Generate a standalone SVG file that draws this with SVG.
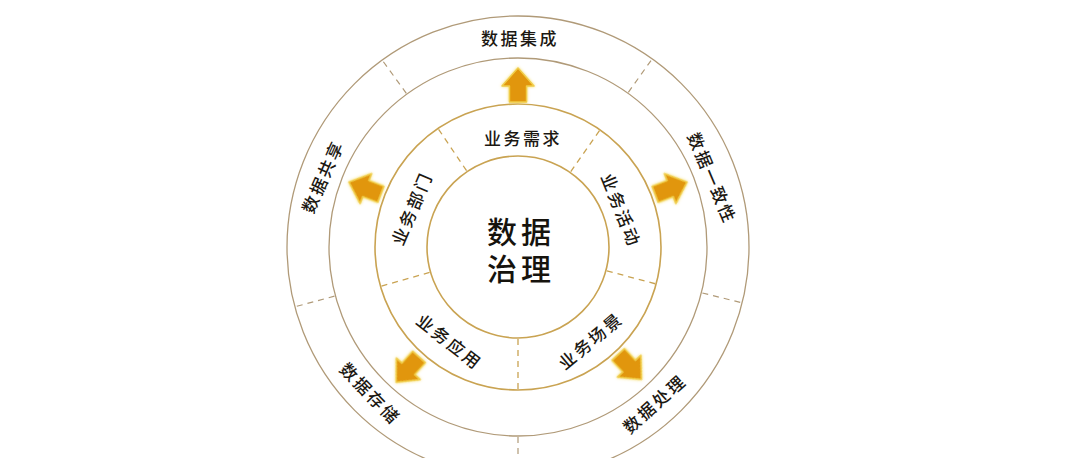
<svg xmlns="http://www.w3.org/2000/svg" width="1080" height="458" viewBox="0 0 1080 458">
<style>
.ring-in{fill:none;stroke:#c9a352;stroke-width:1.6}
.ring-out{fill:none;stroke:#b09a78;stroke-width:1.3}
.dash-in{stroke:#c9a352;stroke-width:1.3;stroke-dasharray:6 5;fill:none}
.dash-out{stroke:#b09a78;stroke-width:1.2;stroke-dasharray:6 5;fill:none}
.lbl{font-family:"Noto Sans CJK SC","Noto Sans",sans-serif;font-size:17px;font-weight:500;fill:#1c1812;text-anchor:middle;dominant-baseline:central;letter-spacing:2.5px}
.ctr{font-family:"Noto Sans CJK SC","Noto Sans",sans-serif;font-size:30px;font-weight:500;fill:#16130d;text-anchor:middle;dominant-baseline:central;letter-spacing:4px}
.arrow{fill:#e1960a;stroke:#f0cc48;stroke-width:1.5;stroke-linejoin:round;filter:url(#glow)}
</style>
<defs>
<filter id="glow" x="-50%" y="-50%" width="200%" height="200%">
<feGaussianBlur in="SourceAlpha" stdDeviation="1.6" result="b"/>
<feFlood flood-color="#f3d650" flood-opacity="0.9"/>
<feComposite in2="b" operator="in"/>
<feMerge><feMergeNode/><feMergeNode in="SourceGraphic"/></feMerge>
</filter>
<path id="arr" d="M0,-17 L16,1 L8.5,1 L8.5,17 L-8.5,17 L-8.5,1 L-16,1 Z"/>
</defs>
<rect width="1080" height="458" fill="#ffffff"/>
<g id="rings">
<circle class="ring-out" cx="518" cy="247" r="231"/>
<circle class="ring-out" cx="518" cy="247" r="189"/>
<circle class="ring-in" cx="518" cy="247" r="143"/>
<circle class="ring-in" cx="518" cy="247" r="91"/>
</g>
<g id="dividers" transform="translate(518,247)">
<line class="dash-in" x1="0" y1="-92" x2="0" y2="-142" transform="rotate(-34)"/>
<line class="dash-in" x1="0" y1="-92" x2="0" y2="-142" transform="rotate(35)"/>
<line class="dash-in" x1="0" y1="-92" x2="0" y2="-142" transform="rotate(105)"/>
<line class="dash-in" x1="0" y1="-92" x2="0" y2="-142" transform="rotate(180)"/>
<line class="dash-in" x1="0" y1="-92" x2="0" y2="-142" transform="rotate(254)"/>
<line class="dash-out" x1="0" y1="-190" x2="0" y2="-230" transform="rotate(-36)"/>
<line class="dash-out" x1="0" y1="-190" x2="0" y2="-230" transform="rotate(35.5)"/>
<line class="dash-out" x1="0" y1="-190" x2="0" y2="-230" transform="rotate(104)"/>
<line class="dash-out" x1="0" y1="-190" x2="0" y2="-230" transform="rotate(180)"/>
<line class="dash-out" x1="0" y1="-190" x2="0" y2="-230" transform="rotate(255)"/>
</g>
<g id="node-center">
<text class="ctr"><tspan x="521" y="230">数据</tspan><tspan x="521" y="267">治理</tspan></text>
</g>
<g id="node-biz-demand"><text class="lbl" x="523" y="137">业务需求</text></g>
<g id="node-biz-activity"><text class="lbl" transform="translate(622,210) rotate(68)">业务活动</text></g>
<g id="node-biz-scene"><text class="lbl" transform="translate(590,340) rotate(-40)">业务场景</text></g>
<g id="node-biz-app"><text class="lbl" transform="translate(450,341) rotate(38)">业务应用</text></g>
<g id="node-biz-dept"><text class="lbl" transform="translate(411,208) rotate(-67)">业务部门</text></g>
<g id="node-data-integration"><text class="lbl" x="520" y="37">数据集成</text></g>
<g id="node-data-consistency"><text class="lbl" transform="translate(713,178) rotate(67)">数据一致性</text></g>
<g id="node-data-processing"><text class="lbl" transform="translate(654,403) rotate(-42)">数据处理</text></g>
<g id="node-data-storage"><text class="lbl" transform="translate(371,393) rotate(46)">数据存储</text></g>
<g id="node-data-sharing"><text class="lbl" transform="translate(322,176) rotate(-66)">数据共享</text></g>
<g id="connectors" transform="translate(518,247)">
<use href="#arr" class="arrow" transform="rotate(0) translate(0,-162)"/>
<use href="#arr" class="arrow" transform="rotate(69) translate(0,-164)"/>
<use href="#arr" class="arrow" transform="rotate(137) translate(0,-164)"/>
<use href="#arr" class="arrow" transform="rotate(222) translate(0,-165)"/>
<use href="#arr" class="arrow" transform="rotate(291) translate(0,-164)"/>
</g>
</svg>
